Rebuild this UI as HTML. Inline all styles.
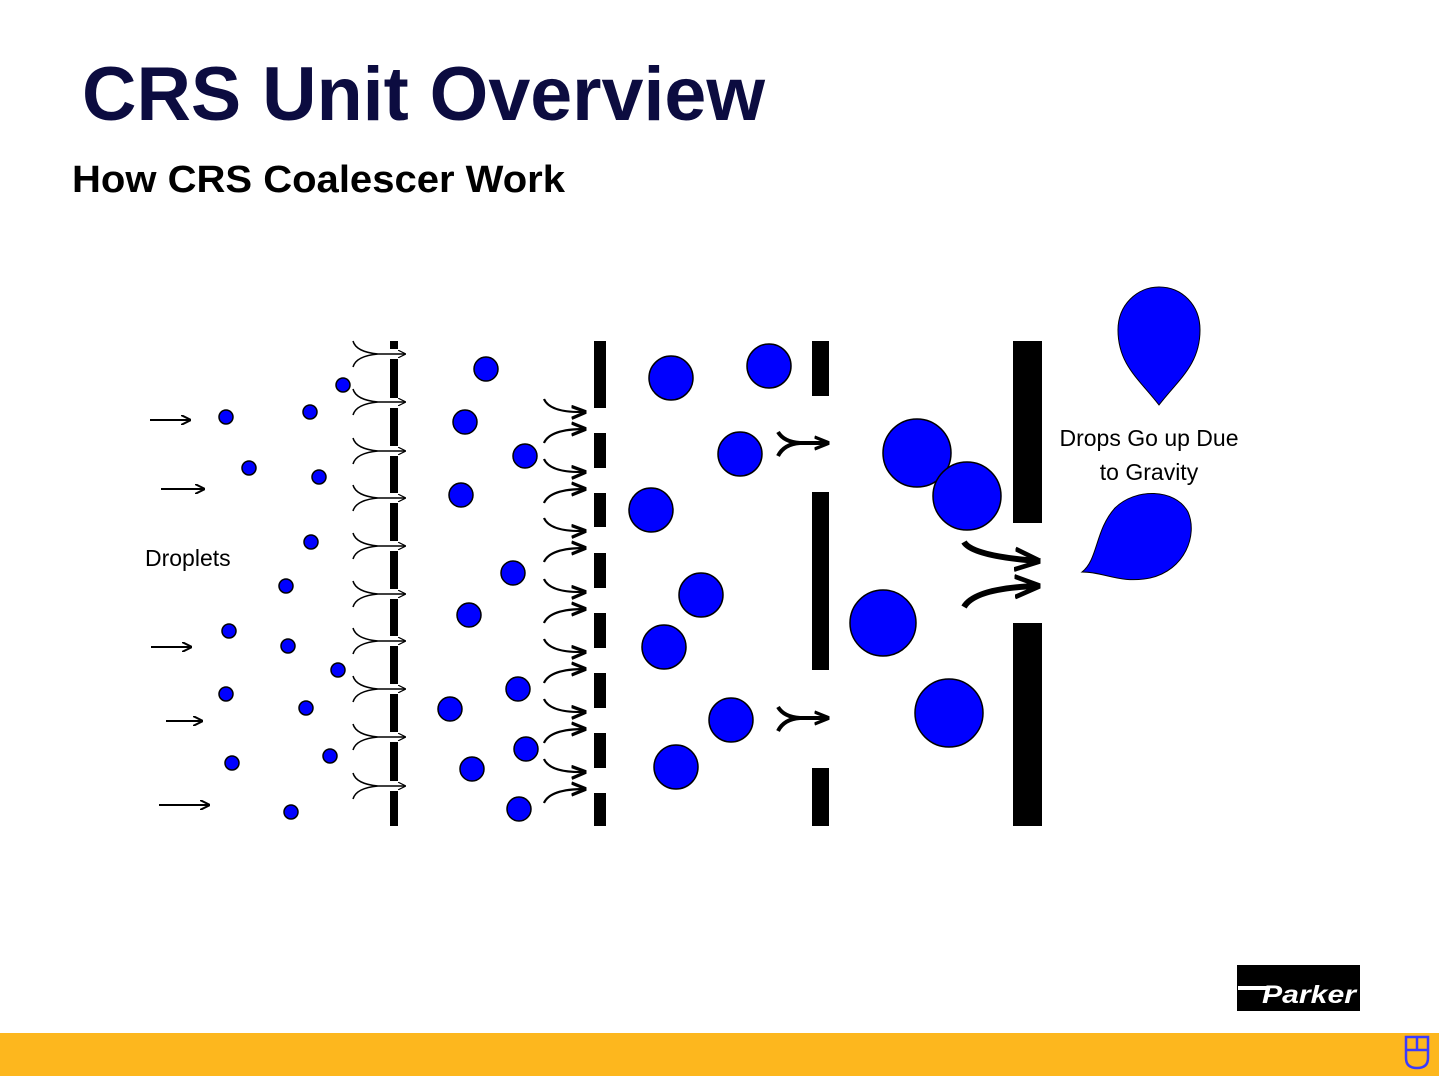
<!DOCTYPE html>
<html><head><meta charset="utf-8"><style>
html,body{margin:0;padding:0;background:#fff;}
svg{display:block;}
</style></head><body>
<svg width="1439" height="1076" viewBox="0 0 1439 1076" xmlns="http://www.w3.org/2000/svg" font-family="Liberation Sans, Arial, sans-serif">
<defs>
<marker id="ah" viewBox="0 0 10 10" refX="9" refY="5" markerWidth="8" markerHeight="8" orient="auto" markerUnits="userSpaceOnUse"><path d="M0,0 L10,5 L0,10" fill="none" stroke="#000" stroke-width="1.5"/></marker>
<marker id="ah2" viewBox="0 0 10 10" refX="9" refY="5" markerWidth="10" markerHeight="10" orient="auto" markerUnits="userSpaceOnUse"><path d="M0,0 L10,5 L0,10" fill="none" stroke="#000" stroke-width="2"/></marker>
<marker id="ah3" viewBox="0 0 10 10" refX="9" refY="5" markerWidth="15" markerHeight="15" orient="auto" markerUnits="userSpaceOnUse"><path d="M0,1 L10,5 L0,9" fill="none" stroke="#000" stroke-width="2.2"/></marker>
<marker id="ah4" viewBox="0 0 10 10" refX="9" refY="5" markerWidth="26" markerHeight="26" orient="auto" markerUnits="userSpaceOnUse"><path d="M0,1 L10,5 L0,9" fill="none" stroke="#000" stroke-width="1.8"/></marker>
</defs>
<text x="82" y="120" font-size="76" font-weight="bold" fill="#0c0c40" textLength="683" lengthAdjust="spacingAndGlyphs">CRS Unit Overview</text>
<text x="72" y="192" font-size="38" font-weight="bold" fill="#000" textLength="493" lengthAdjust="spacingAndGlyphs">How CRS Coalescer Work</text>

<g stroke="#000" stroke-width="2" marker-end="url(#ah2)">
<line x1="150" y1="420" x2="190" y2="420"/><line x1="161" y1="489" x2="204" y2="489"/>
<line x1="151" y1="647" x2="191" y2="647"/><line x1="166" y1="721" x2="202" y2="721"/>
<line x1="159" y1="805" x2="209" y2="805"/>
</g>
<text x="145" y="566" font-size="23">Droplets</text>

<rect x="390" y="341" width="8" height="485" fill="#000"/>
<g fill="#fff">
<rect x="389" y="349" width="10" height="10"/><rect x="389" y="398" width="10" height="10"/><rect x="389" y="446" width="10" height="10"/><rect x="389" y="493" width="10" height="10"/><rect x="389" y="541" width="10" height="10"/><rect x="389" y="589" width="10" height="10"/><rect x="389" y="636" width="10" height="10"/><rect x="389" y="684" width="10" height="10"/><rect x="389" y="732" width="10" height="10"/><rect x="389" y="781" width="10" height="10"/>
</g>
<g fill="none" stroke="#000" stroke-width="1.5">
<path d="M353,341 Q356,352 378,354 M353,367 Q356,356 378,354 M378,354 L405,354" marker-end="url(#ah)"/>
<path d="M353,389 Q356,400 378,402 M353,415 Q356,404 378,402 M378,402 L405,402" marker-end="url(#ah)"/>
<path d="M353,438 Q356,449 378,451 M353,464 Q356,453 378,451 M378,451 L405,451" marker-end="url(#ah)"/>
<path d="M353,485 Q356,496 378,498 M353,511 Q356,500 378,498 M378,498 L405,498" marker-end="url(#ah)"/>
<path d="M353,533 Q356,544 378,546 M353,559 Q356,548 378,546 M378,546 L405,546" marker-end="url(#ah)"/>
<path d="M353,581 Q356,592 378,594 M353,607 Q356,596 378,594 M378,594 L405,594" marker-end="url(#ah)"/>
<path d="M353,628 Q356,639 378,641 M353,654 Q356,643 378,641 M378,641 L405,641" marker-end="url(#ah)"/>
<path d="M353,676 Q356,687 378,689 M353,702 Q356,691 378,689 M378,689 L405,689" marker-end="url(#ah)"/>
<path d="M353,724 Q356,735 378,737 M353,750 Q356,739 378,737 M378,737 L405,737" marker-end="url(#ah)"/>
<path d="M353,773 Q356,784 378,786 M353,799 Q356,788 378,786 M378,786 L405,786" marker-end="url(#ah)"/>
</g>

<g fill="#000">
<rect x="594" y="341" width="12" height="67"/><rect x="594" y="433" width="12" height="35"/><rect x="594" y="493" width="12" height="34"/><rect x="594" y="553" width="12" height="35"/><rect x="594" y="613" width="12" height="35"/><rect x="594" y="673" width="12" height="35"/><rect x="594" y="733" width="12" height="35"/><rect x="594" y="793" width="12" height="33"/>
</g>
<g fill="none" stroke="#000" stroke-width="2.2" marker-end="url(#ah3)">
<path d="M544,399 Q550,413 585,412"/><path d="M544,443 Q550,429 585,429"/>
<path d="M544,459 Q550,473 585,472"/><path d="M544,503 Q550,489 585,489"/>
<path d="M544,518 Q550,532 585,531"/><path d="M544,562 Q550,548 585,548"/>
<path d="M544,579 Q550,593 585,592"/><path d="M544,623 Q550,609 585,609"/>
<path d="M544,639 Q550,653 585,652"/><path d="M544,683 Q550,669 585,669"/>
<path d="M544,699 Q550,713 585,712"/><path d="M544,743 Q550,729 585,729"/>
<path d="M544,759 Q550,773 585,772"/><path d="M544,803 Q550,789 585,789"/>
</g>

<g fill="#000"><rect x="812" y="341" width="17" height="55"/><rect x="812" y="492" width="17" height="178"/><rect x="812" y="768" width="17" height="58"/></g>
<g fill="none" stroke="#000" stroke-width="4">
<path d="M778,432 Q784,442 800,443 M778,456 Q784,444 800,443 M800,443 L828,443" marker-end="url(#ah3)"/>
<path d="M778,707 Q784,717 800,718 M778,731 Q784,719 800,718 M800,718 L828,718" marker-end="url(#ah3)"/>
</g>

<g fill="#000"><rect x="1013" y="341" width="29" height="182"/><rect x="1013" y="623" width="29" height="203"/></g>
<g fill="none" stroke="#000" stroke-width="6">
<path d="M964,542 Q972,556 1038,561" marker-end="url(#ah4)"/>
<path d="M964,607 Q975,588 1038,586" marker-end="url(#ah4)"/>
</g>

<g fill="#0000ff" stroke="#000" stroke-width="1.5">
<circle cx="226" cy="417" r="7"/><circle cx="310" cy="412" r="7"/><circle cx="343" cy="385" r="7"/><circle cx="249" cy="468" r="7"/><circle cx="319" cy="477" r="7"/><circle cx="311" cy="542" r="7"/><circle cx="286" cy="586" r="7"/><circle cx="229" cy="631" r="7"/><circle cx="288" cy="646" r="7"/><circle cx="338" cy="670" r="7"/><circle cx="226" cy="694" r="7"/><circle cx="306" cy="708" r="7"/><circle cx="232" cy="763" r="7"/><circle cx="330" cy="756" r="7"/><circle cx="291" cy="812" r="7"/>
<circle cx="486" cy="369" r="12"/><circle cx="465" cy="422" r="12"/><circle cx="525" cy="456" r="12"/><circle cx="461" cy="495" r="12"/><circle cx="513" cy="573" r="12"/><circle cx="469" cy="615" r="12"/><circle cx="518" cy="689" r="12"/><circle cx="450" cy="709" r="12"/><circle cx="526" cy="749" r="12"/><circle cx="472" cy="769" r="12"/><circle cx="519" cy="809" r="12"/>
<circle cx="671" cy="378" r="22"/><circle cx="769" cy="366" r="22"/><circle cx="740" cy="454" r="22"/><circle cx="651" cy="510" r="22"/><circle cx="701" cy="595" r="22"/><circle cx="664" cy="647" r="22"/><circle cx="731" cy="720" r="22"/><circle cx="676" cy="767" r="22"/>
<circle cx="917" cy="453" r="34"/><circle cx="967" cy="496" r="34"/><circle cx="883" cy="623" r="33"/><circle cx="949" cy="713" r="34"/>
<path d="M1159,405 C1140,380 1118,365 1118,330 C1118,305 1137,287 1159,287 C1182,287 1200,305 1200,330 C1200,365 1178,380 1159,405 Z" stroke-width="1"/>
<path d="M1082,572 C1098,560 1095,530 1115,508 C1135,488 1175,488 1188,512 C1198,535 1185,570 1150,578 C1120,584 1105,572 1082,572 Z" stroke-width="1"/>
</g>
<text x="1149" y="446" font-size="23" text-anchor="middle">Drops Go up Due</text>
<text x="1149" y="480" font-size="23" text-anchor="middle">to Gravity</text>

<rect x="1237" y="965" width="123" height="46" fill="#000"/>
<rect x="1238" y="986" width="32" height="4" fill="#fff"/>
<text x="1262" y="1003" font-size="25" font-weight="bold" font-style="italic" fill="#fff" textLength="94" lengthAdjust="spacingAndGlyphs">Parker</text>

<rect x="0" y="1033" width="1439" height="43" fill="#fdb71e"/>
<g fill="none" stroke="#3a3aff" stroke-width="2.5">
<path d="M1406,1037 L1428,1037 L1428,1058 Q1428,1068 1417,1068 Q1406,1068 1406,1058 Z"/>
<line x1="1406" y1="1050" x2="1428" y2="1050"/><line x1="1417" y1="1037" x2="1417" y2="1050"/>
</g>
</svg>
</body></html>
